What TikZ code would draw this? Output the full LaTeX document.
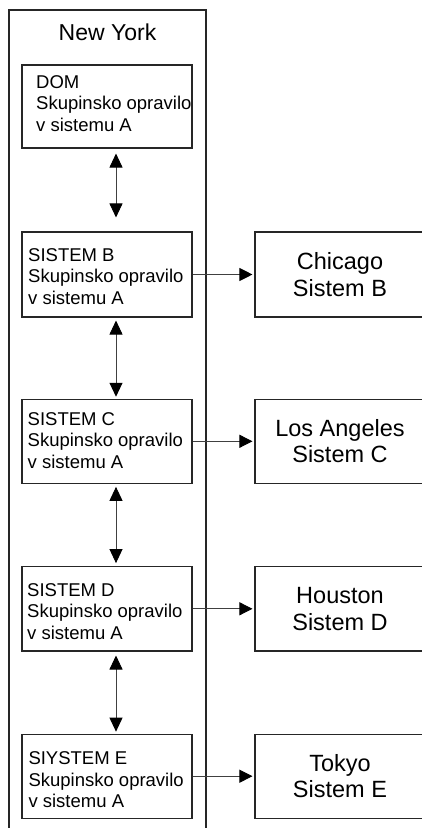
\documentclass[tikz,border=0pt]{standalone}
\usepackage{fontspec}
\setmainfont{Liberation Sans}
\usetikzlibrary{arrows.meta}
\begin{document}
\begin{tikzpicture}[x=1pt,y=-1pt,
  lbox/.style={draw=black!85, line width=1.1pt, minimum width=170pt, minimum height=85pt, inner sep=0pt},
  rbox/.style={draw=black!85, line width=1.1pt, minimum width=170pt, minimum height=85pt, inner sep=0pt, align=center, font=\fontsize{23.5}{26.5}\selectfont},
  ltext/.style={anchor=north west, inner sep=0pt, align=left, font=\fontsize{18.5}{21.5}\selectfont},
  frame/.style={draw=black!85, line width=1.2pt},
  link/.style={draw=black!75, line width=0.9pt},
  tipv/.style={{Triangle[length=14pt,width=13pt,color=black]}-{Triangle[length=14pt,width=13pt,color=black]}},
  tiph/.style={-{Triangle[length=13pt,width=13pt,color=black]}},
]
\useasboundingbox (0,0) rectangle (422,828);

% outer frame (open at the bottom)
\coordinate (fbl) at (9,828);
\coordinate (ftr) at (206,10);
\coordinate (fbr) at (206,828);
\draw[frame] (fbl) |- (ftr) -- (fbr);
\node[font=\fontsize{23}{26}\selectfont, anchor=base, inner sep=0pt] (ny) at (107.5,40.7) {New York};

% left boxes
\node[lbox, minimum height=83pt] (dom) at (107,106.5) {};
\node[lbox] (sb) at (107,274.5) {};
\node[lbox, minimum height=84pt] (sc) at (107,441.3) {};
\node[lbox, minimum height=84.3pt] (sd) at (107,608.8) {};
\node[lbox, minimum height=84pt] (se) at (107,776.2) {};

\node[ltext] (tdom) at (36,75) {DOM\\Skupinsko opravilo\\v sistemu A};
\node[ltext] (tsb) at (28,248.3) {SISTEM B\\Skupinsko opravilo\\v sistemu A};
\node[ltext] (tsc) at (27.5,412) {SISTEM C\\Skupinsko opravilo\\v sistemu A};
\node[ltext] (tsd) at (27,583.3) {SISTEM D\\Skupinsko opravilo\\v sistemu A};
\node[ltext] (tse) at (28.3,751.7) {SIYSTEM E\\Skupinsko opravilo\\v sistemu A};

% right boxes
\node[rbox] (cb) at (340,274.5) {Chicago\\Sistem B};
\node[rbox, minimum height=84pt] (cc) at (340,441.3) {Los Angeles\\Sistem C};
\node[rbox, minimum height=84.3pt] (cd) at (340,608.8) {Houston\\Sistem D};
\node[rbox, minimum height=84pt] (ce) at (340,776.2) {Tokyo\\Sistem E};

% vertical double arrows
\draw[link, tipv, shorten <=5pt, shorten >=14pt] ([xshift=9pt]dom.south) -- ([xshift=9pt]sb.north);
\draw[link, tipv, shorten <=3pt, shorten >=2pt] ([xshift=9pt]sb.south) -- ([xshift=9pt]sc.north);
\draw[link, tipv, shorten <=3pt, shorten >=3pt] ([xshift=9pt]sc.south) -- ([xshift=9pt]sd.north);
\draw[link, tipv, shorten <=4pt, shorten >=2pt] ([xshift=9pt]sd.south) -- ([xshift=9pt]se.north);

% horizontal arrows
\draw[link, tiph, shorten >=2pt] (sb.east) -- (cb.west);
\draw[link, tiph, shorten >=2pt] (sc.east) -- (cc.west);
\draw[link, tiph, shorten >=2pt] (sd.east) -- (cd.west);
\draw[link, tiph, shorten >=2pt] (se.east) -- (ce.west);
\end{tikzpicture}
\end{document}
